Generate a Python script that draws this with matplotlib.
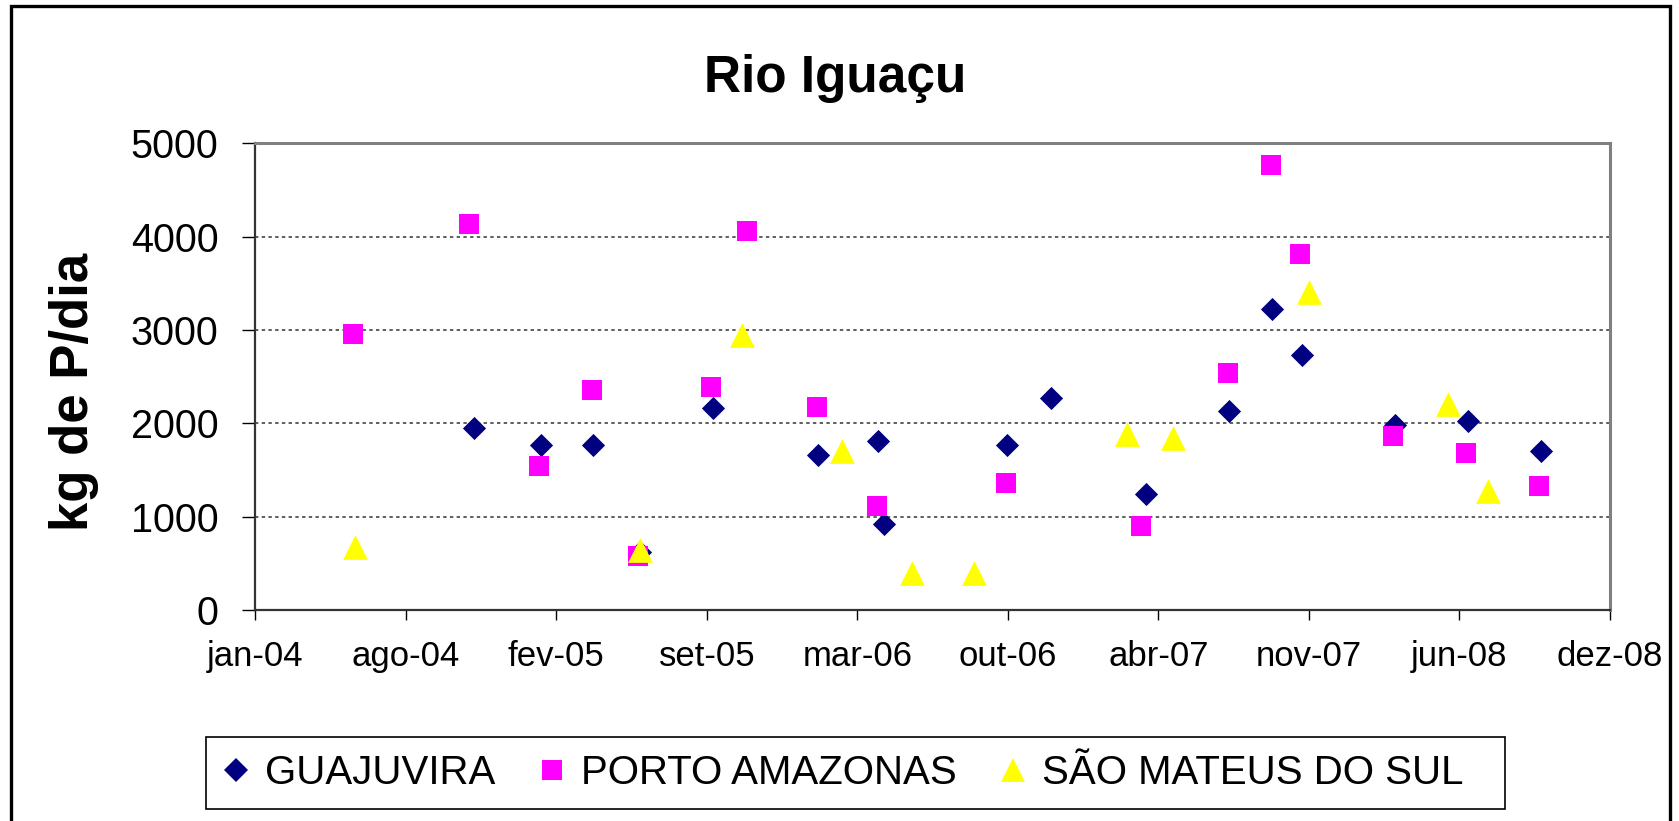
import numpy as np
import matplotlib
matplotlib.use("Agg")
import matplotlib.pyplot as plt
import matplotlib.dates as mdates
from matplotlib.patches import Rectangle
from matplotlib.lines import Line2D

plt.rcParams['font.family'] = ['Liberation Sans', 'DejaVu Sans']

# ---------------- data ----------------
guajuvira_dates = ['2004-10-31', '2005-01-27', '2005-04-07', '2005-06-08', '2005-09-13',
                   '2006-01-31', '2006-04-21', '2006-04-29', '2006-10-09', '2006-12-06',
                   '2007-04-12', '2007-07-31', '2007-09-26', '2007-11-05', '2008-03-07',
                   '2008-06-12', '2008-09-17']
guajuvira_vals = [1950, 1771, 1771, 625, 2161, 1664, 1807, 918, 1771, 2268,
                  1239, 2129, 3225, 2729, 1982, 2021, 1700]

porto_dates = ['2004-05-23', '2004-10-24', '2005-01-25', '2005-04-05', '2005-06-05',
               '2005-09-10', '2005-10-28', '2006-01-29', '2006-04-19', '2006-10-07',
               '2007-04-05', '2007-07-29', '2007-09-24', '2007-11-02', '2008-03-05',
               '2008-06-10', '2008-09-15']
porto_vals = [2960, 4133, 1543, 2357, 582, 2393, 4061, 2179, 1118, 1364,
              903, 2536, 4771, 3814, 1864, 1686, 1329]

sao_mateus_dates = ['2004-05-25', '2005-06-08', '2005-10-22', '2006-03-03', '2006-06-04',
                    '2006-08-26', '2007-03-17', '2007-05-17', '2007-11-14', '2008-05-17',
                    '2008-07-09']
sao_mateus_vals = [675, 643, 2950, 1707, 393, 393, 1882, 1846, 3411, 2204, 1275]

series_names = ['GUAJUVIRA', 'PORTO AMAZONAS', 'SÃO MATEUS DO SUL']
x_tick_labels = ['jan-04', 'ago-04', 'fev-05', 'set-05', 'mar-06', 'out-06',
                 'abr-07', 'nov-07', 'jun-08', 'dez-08']
y_ticks = [0, 1000, 2000, 3000, 4000, 5000]
x_start = '2004-01-14'
x_step_days = 200

# ---------------- figure ----------------
W, H = 1679, 821
fig = plt.figure(figsize=(W / 100, H / 100), dpi=100)

def fx(px):
    return px / W

def fy(py):
    return 1 - py / H

# outer chart border
fig.patches.append(Rectangle((fx(11), fy(830)), fx(1670) - fx(11), fy(6.5) - fy(830),
                             transform=fig.transFigure, fill=False, edgecolor='black',
                             linewidth=2.4, zorder=0))

ax = fig.add_axes([fx(255.3), fy(610), fx(1610) - fx(255.3), fy(143.3) - fy(610)])

def to_num(ds):
    return mdates.date2num(np.array(ds, dtype='datetime64[D]'))

x0 = to_num([x_start])[0]
ticks = x0 + np.arange(len(x_tick_labels)) * x_step_days

ax.scatter(to_num(guajuvira_dates), guajuvira_vals, marker='D', s=11.8**2,
           color='#000080', linewidths=0, zorder=3, clip_on=False)
ax.scatter(to_num(porto_dates), porto_vals, marker='s', s=14.2**2,
           color='#FF00FF', linewidths=0, zorder=4, clip_on=False)
ax.scatter(to_num(sao_mateus_dates), sao_mateus_vals, marker='^', s=17.8**2,
           color='#FFFF00', linewidths=0, zorder=5, clip_on=False)

ax.set_xlim(ticks[0], ticks[-1])
ax.set_ylim(0, 5000)
ax.set_xticks(ticks)
ax.set_xticklabels(x_tick_labels)
ax.set_yticks(y_ticks)
ax.set_yticklabels([str(v) for v in y_ticks])

for v in y_ticks[1:-1]:
    ax.axhline(v, color='#333333', linewidth=1.1, linestyle=(0, (2.2, 2.2)), zorder=1)

ax.tick_params(axis='y', direction='out', length=9.1, width=1.0, pad=17.5,
               labelsize=28.5, color='black')
ax.tick_params(axis='x', direction='out', length=7.2, width=1.0, pad=14.4,
               labelsize=25, color='black')

for side in ['top', 'right']:
    ax.spines[side].set_color('#808080')
    ax.spines[side].set_linewidth(2.2)
for side in ['left', 'bottom']:
    ax.spines[side].set_color('#333333')
    ax.spines[side].set_linewidth(1.6)
ax.set_facecolor('white')

# title & y label
fig.text(fx(835), fy(91.7), 'Rio Iguaçu', ha='center', va='baseline',
         fontsize=37, fontweight='bold')
fig.text(fx(74), fy(392), 'kg de P/dia', ha='center', va='center', rotation=90,
         fontsize=38, fontweight='bold')

# legend box
fig.patches.append(Rectangle((fx(205.6), fy(808.5)), fx(1504.5) - fx(205.6),
                             fy(736.7) - fy(808.5), transform=fig.transFigure,
                             fill=True, facecolor='white', edgecolor='black',
                             linewidth=1.2, zorder=1))
handles = [
    Line2D([], [], linestyle='none', marker='D', markersize=11.8, color='#000080',
           markeredgewidth=0),
    Line2D([], [], linestyle='none', marker='s', markersize=14.2, color='#FF00FF',
           markeredgewidth=0),
    Line2D([], [], linestyle='none', marker='^', markersize=17.8, color='#FFFF00',
           markeredgewidth=0),
]
fig.legend(handles, series_names, loc='center left',
           bbox_to_anchor=(fx(215.6), fy(772.6)), bbox_transform=fig.transFigure,
           ncol=3, frameon=False, fontsize=29, handlelength=1.0,
           handletextpad=0.22, columnspacing=0.9, borderpad=0, borderaxespad=0)

fig.savefig('out.png', dpi=100, facecolor='white')
